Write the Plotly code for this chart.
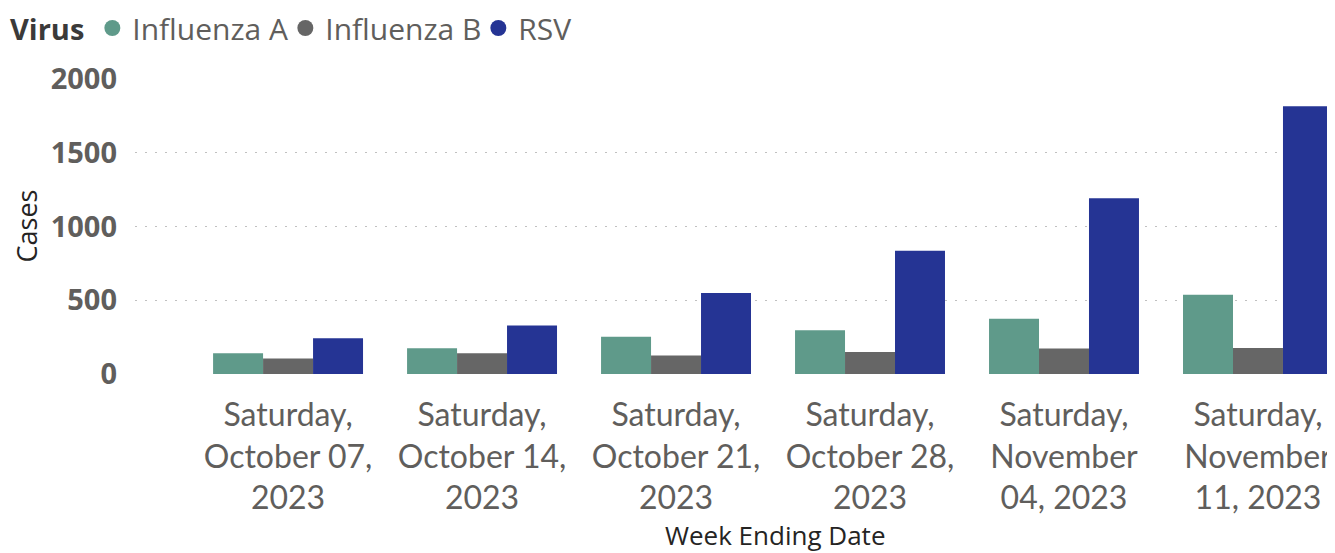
import plotly.graph_objects as go

categories = ["Saturday,<br>October 07,<br>2023", "Saturday,<br>October 14,<br>2023",
              "Saturday,<br>October 21,<br>2023", "Saturday,<br>October 28,<br>2023",
              "Saturday,<br>November<br>04, 2023", "Saturday,<br>November<br>11, 2023"]
influenza_a = [140, 174, 252, 297, 374, 538]
influenza_b = [105, 140, 126, 149, 173, 176]
rsv = [243, 328, 550, 836, 1191, 1815]
series_names = ["Influenza A", "Influenza B", "RSV"]
colors = ["#5F9A8A", "#666666", "#253494"]
y_ticks = [0, 500, 1000, 1500, 2000]

FONT = "Open Sans"
# page body has an 8px default margin, so the figure is sized to the visible area
W, H = 1327, 545
L, R, T, B = 127, 0, 71, 179
PW, PH = W - L - R, H - T - B

fig = go.Figure()
for name, vals, col in zip(series_names, [influenza_a, influenza_b, rsv], colors):
    fig.add_trace(go.Bar(x=categories, y=vals, name=name, marker_color=col,
                         marker_line_width=0, showlegend=False))
    fig.add_trace(go.Scatter(x=[None], y=[None], mode="markers", name=name,
                             marker=dict(symbol="circle", size=17, color=col)))

fig.update_layout(
    width=W, height=H,
    margin=dict(l=L, r=R, t=T, b=B, autoexpand=False),
    paper_bgcolor="white", plot_bgcolor="white",
    barmode="group", bargap=0.227, bargroupgap=0,
    font=dict(family=FONT, color="#605E5C"),
    legend=dict(orientation="h", x=-L / PW, y=1 + (T + 6) / PH,
                xanchor="left", yanchor="top",
                title=dict(text="<b>Virus</b>", font=dict(size=29, color="#3B3A39")),
                font=dict(size=30, color="#605E5C"), itemwidth=30, tracegroupgap=0,
                entrywidth=148, entrywidthmode="pixels"),
    xaxis=dict(range=[-0.789, 5.397], showgrid=False, showline=False, ticks="",
               automargin=False, tickfont=dict(size=32, color="#605E5C", family="Lato"),
               ticklabelstandoff=19),
    yaxis=dict(range=[0, 2000], tickvals=y_ticks, showgrid=True, gridcolor="#C0C0C0",
               griddash="2px,8px", gridwidth=1, zeroline=False, showline=False, ticks="",
               automargin=False,
               tickfont=dict(size=29, color="#605E5C", weight="bold"), ticklabelstandoff=17),
)
fig.add_annotation(text="Cases", xref="paper", yref="paper",
                   x=(18 - L) / PW, y=0.5, textangle=-90, showarrow=False,
                   xanchor="center", yanchor="middle", borderpad=0,
                   font=dict(size=27, color="#252423", family=FONT))
fig.add_annotation(text="Week Ending Date", xref="paper", yref="paper",
                   x=(767 - L) / PW, y=-(527 - (H - B)) / PH,
                   showarrow=False, xanchor="center", yanchor="middle", borderpad=0,
                   font=dict(size=26, color="#252423", family=FONT))
fig.write_html("out.html")
